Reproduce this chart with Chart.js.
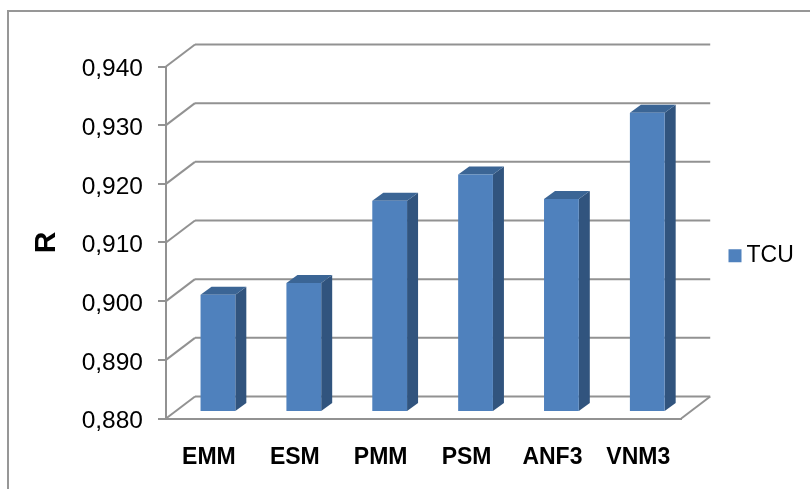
<!DOCTYPE html>
<html>
<head>
<meta charset="utf-8">
<title>TCU</title>
<script src="https://cdn.jsdelivr.net/npm/chart.js@4/dist/chart.umd.min.js"></script>
<style>
    html, body { margin: 0; padding: 0; background: #fff; }
    #wrap { width: 810px; height: 489px; }
    canvas { filter: blur(0.45px); }
</style>
</head>
<body>
<div id="wrap"><canvas id="chart" width="810" height="489"></canvas></div>
<script>
const categories = ['EMM', 'ESM', 'PMM', 'PSM', 'ANF3', 'VNM3'];
const tcuValues = [0.900, 0.902, 0.916, 0.9205, 0.9163, 0.931];
const yTickValues = [0.88, 0.89, 0.90, 0.91, 0.92, 0.93, 0.94];

const gridColor = '#929292';
const font = 'Liberation Sans, Arial, sans-serif';

// decalage du mur du fond et des barres, pour le faux effet 3D
const wall = { x: 29, y: -22 };
const barShift = { x: 9, y: -6.5 };
const barDepth = { x: 11, y: -8 };

function line(ctx, x1, y1, x2, y2) {
    ctx.beginPath();
    ctx.moveTo(x1, y1);
    ctx.lineTo(x2, y2);
    ctx.stroke();
}

const fake3d = {
    id: 'fake3d',
    beforeDraw(chart) {
        const ctx = chart.ctx;
        ctx.save();
        ctx.strokeStyle = '#979797';
        ctx.lineWidth = 2;
        ctx.beginPath();
        ctx.moveTo(8, 489);
        ctx.lineTo(8, 11);
        ctx.lineTo(810, 11);
        ctx.stroke();
        ctx.restore();

        // les labels de l'axe y sont un peu plus bas dans l'original
        chart.scales.y.getLabelItems().forEach(item => {
            item.options.translation[1] += 3;
        });
    },
    beforeDatasetsDraw(chart) {
        const ctx = chart.ctx;
        const { left, right, bottom } = chart.chartArea;
        ctx.save();
        ctx.strokeStyle = gridColor;
        ctx.lineWidth = 2;
        yTickValues.forEach(v => {
            const y = chart.scales.y.getPixelForValue(v);
            line(ctx, left, y, left + wall.x, y + wall.y);
            line(ctx, left + wall.x, y + wall.y, right + wall.x, y + wall.y);
        });
        line(ctx, right, bottom, right + wall.x, bottom + wall.y);

        // faces cote et dessus des barres
        chart.getDatasetMeta(0).data.forEach(bar => {
            const x1 = bar.x - bar.width / 2 + barShift.x;
            const x2 = bar.x + bar.width / 2 + barShift.x;
            const top = bar.y + barShift.y;
            const base = bar.base + barShift.y;
            ctx.fillStyle = '#31547e';
            ctx.beginPath();
            ctx.moveTo(x2, top);
            ctx.lineTo(x2 + barDepth.x, top + barDepth.y);
            ctx.lineTo(x2 + barDepth.x, base + barDepth.y);
            ctx.lineTo(x2, base);
            ctx.closePath();
            ctx.fill();
            ctx.fillStyle = '#3b6595';
            ctx.beginPath();
            ctx.moveTo(x1, top);
            ctx.lineTo(x1 + barDepth.x, top + barDepth.y);
            ctx.lineTo(x2 + barDepth.x, top + barDepth.y);
            ctx.lineTo(x2, top);
            ctx.closePath();
            ctx.fill();
        });
        ctx.restore();

        ctx.save();
        ctx.translate(barShift.x, barShift.y);
    },
    afterDatasetsDraw(chart) {
        chart.ctx.restore();
    },
    afterLayout(chart) {
        // place la legende comme dans l'original
        const legend = chart.legend;
        const dx = 735 - 10 - legend.left;
        const dy = -22;
        legend.left += dx;
        legend.right += dx;
        legend.top += dy;
        legend.bottom += dy;
    }
};

new Chart(document.getElementById('chart'), {
    type: 'bar',
    plugins: [fake3d],
    data: {
        labels: categories,
        datasets: [{
            label: 'TCU',
            data: tcuValues,
            base: 0.88,
            backgroundColor: '#4f81bd',
            borderWidth: 0,
            barPercentage: 0.405,
            categoryPercentage: 1,
            clip: false
        }]
    },
    options: {
        responsive: false,
        animation: false,
        layout: { padding: { top: 66.5, right: 50, bottom: 0, left: 0 } },
        plugins: {
            tooltip: { enabled: false },
            legend: {
                position: 'right',
                labels: {
                    usePointStyle: true,
                    pointStyle: 'rect',
                    boxHeight: 13,
                    boxWidth: 0.01,
                    color: '#000',
                    font: { family: font, size: 23 }
                }
            }
        },
        scales: {
            x: {
                afterFit(scale) { scale.height = 70.5; },
                grid: { display: true, drawOnChartArea: false, drawTicks: false, color: gridColor, lineWidth: 2 },
                border: { display: true, color: gridColor, width: 2 },
                ticks: {
                    color: '#000',
                    padding: 25,
                    maxRotation: 0,
                    font: { family: font, size: 23, weight: 'bold' }
                }
            },
            y: {
                min: 0.88,
                max: 0.94,
                afterFit(scale) { scale.width = 166; },
                grid: { drawOnChartArea: false, tickLength: 8, color: gridColor, lineWidth: 2 },
                border: { display: true, color: gridColor, width: 2 },
                ticks: {
                    stepSize: 0.01,
                    padding: 15,
                    color: '#000',
                    font: { family: font, size: 24.5 },
                    callback: v => v.toFixed(3).replace('.', ',')
                },
                title: {
                    display: true,
                    text: 'R',
                    color: '#000',
                    padding: { top: 29, bottom: 0 },
                    font: { family: font, size: 30, weight: 'bold' }
                }
            }
        }
    }
});
</script>
</body>
</html>
